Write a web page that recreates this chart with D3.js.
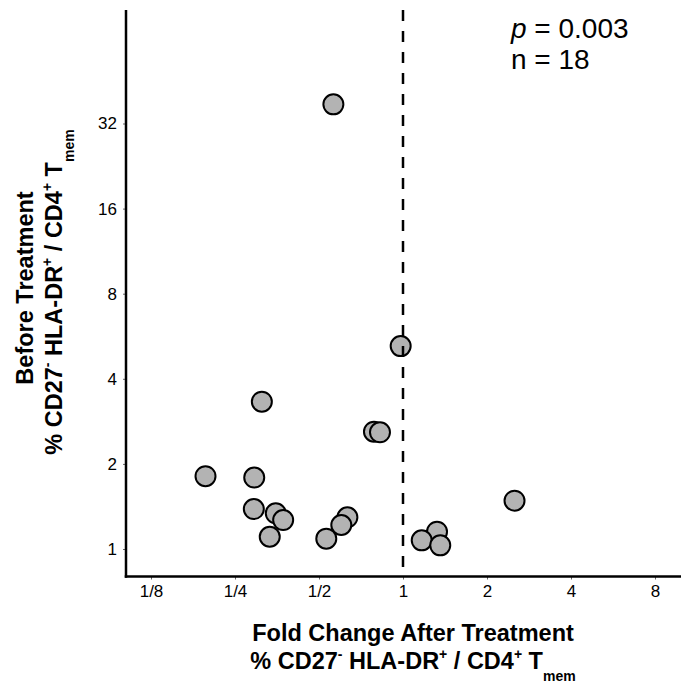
<!DOCTYPE html>
<html>
<head>
<meta charset="utf-8">
<script src="https://cdn.jsdelivr.net/npm/d3@7"></script>
<style>
body { margin: 0; background: #fff; }
text { font-family: "Liberation Sans", Arial, Helvetica, sans-serif; }
</style>
</head>
<body>
<div id="chart"></div>
<script>
// fold change after treatment (x) vs % before treatment (y), one per subject
var foldChange = [0.196, 0.293, 0.292, 0.312, 0.333, 0.350, 0.372, 0.531, 0.632, 0.601,
                  0.787, 0.827, 0.563, 0.981, 1.324, 1.167, 1.36, 2.51]
var beforeTreatment = [1.81, 1.79, 1.385, 3.32, 1.105, 1.337, 1.266, 1.088, 1.295, 1.216,
                       2.60, 2.587, 37.4, 5.22, 1.151, 1.073, 1.030, 1.482]

var xTicks = [1/8, 1/4, 1/2, 1, 2, 4, 8]
var xTickLabels = ["1/8", "1/4", "1/2", "1", "2", "4", "8"]
var yTicks = [1, 2, 4, 8, 16, 32]
var yTickLabels = ["1", "2", "4", "8", "16", "32"]
var refLine = 1
var pValue = "0.003"
var nSubjects = 18

var W = 681, H = 684
var margin = { left: 126, top: 10, right: 0, bottom: 107.5 }
var width = W - margin.left - margin.right,
    height = H - margin.top - margin.bottom

var svg = d3.select("#chart")
    .append("svg")
        .attr("width", W)
        .attr("height", H)
    .append("g")
        .attr("transform", "translate(" + margin.left + "," + margin.top + ")")

var x = d3.scaleLog().base(2)
    .domain([1/8, 8])
    .range([25, 529])

var y = d3.scaleLog().base(2)
    .domain([1, 32])
    .range([539, 113.5])

var x_axis = d3.axisBottom(x)
    .tickValues(xTicks)
    .tickFormat(function(d, i){ return xTickLabels[i] })
    .tickSize(3)
    .tickPadding(5)

var y_axis = d3.axisLeft(y)
    .tickValues(yTicks)
    .tickFormat(function(d, i){ return yTickLabels[i] })
    .tickSize(3)
    .tickPadding(6)

var xAxisCall = svg.append("g")
    .attr("transform", "translate(0," + height + ")")
    .call(x_axis)

var yAxisCall = svg.append("g")
    .call(y_axis)

svg.selectAll(".domain").remove()
svg.selectAll(".tick line").attr("stroke", "#666").attr("stroke-width", 1)
svg.selectAll(".tick text")
    .attr("fill", "#000")
    .attr("font-size", "17px")
    .attr("font-family", "'Liberation Sans', Arial, Helvetica, sans-serif")

// axis lines
svg.append("line")
    .attr("x1", 0).attr("x2", 0)
    .attr("y1", 0).attr("y2", height + 1.25)
    .attr("stroke", "#000").attr("stroke-width", 2.5)

svg.append("line")
    .attr("x1", -1.25).attr("x2", width)
    .attr("y1", height).attr("y2", height)
    .attr("stroke", "#000").attr("stroke-width", 2.5)

// points
svg.selectAll(".pt")
    .data(foldChange)
    .enter()
    .append("circle")
        .attr("class", "pt")
        .attr("cx", function(d){ return x(d) })
        .attr("cy", function(d, i){ return y(beforeTreatment[i]) })
        .attr("r", 10)
        .attr("fill", "#b3b3b3")
        .attr("stroke", "#000")
        .attr("stroke-width", 2)

// reference line at fold change = 1
svg.append("line")
    .attr("x1", x(refLine)).attr("x2", x(refLine))
    .attr("y1", 0).attr("y2", height)
    .attr("stroke", "#000")
    .attr("stroke-width", 2.5)
    .attr("stroke-dasharray", "11,10")

// stats annotation
var stats = svg.append("text")
    .attr("x", 385)
    .attr("y", 28)
    .attr("font-size", "28px")
stats.append("tspan").attr("font-style", "italic").text("p")
stats.append("tspan").text(" = " + pValue)

svg.append("text")
    .attr("x", 385)
    .attr("y", 59)
    .attr("font-size", "28px")
    .text("n = " + nSubjects)

// axis titles
function cellLabel(sel){
    sel.append("tspan").text("% CD27")
    sel.append("tspan").attr("font-size", "14px").attr("dy", -10).text("-")
    sel.append("tspan").attr("dy", 10).text(" HLA-DR")
    sel.append("tspan").attr("font-size", "14px").attr("dy", -10).text("+")
    sel.append("tspan").attr("dy", 10).text(" / CD4")
    sel.append("tspan").attr("font-size", "14px").attr("dy", -10).text("+")
    sel.append("tspan").attr("dy", 10).text(" T")
    sel.append("tspan").attr("font-size", "14px").attr("dy", 12).text("mem")
}

var xTitle = svg.append("g")
    .attr("transform", "translate(" + (413 - margin.left) + "," + (641 - margin.top) + ")")
    .attr("font-weight", "bold")
    .attr("font-size", "23.5px")
    .attr("text-anchor", "middle")

xTitle.append("text").text("Fold Change After Treatment")
xTitle.append("text").attr("y", 28).call(cellLabel)

var yTitle = svg.append("g")
    .attr("font-weight", "bold")
    .attr("font-size", "23.5px")
    .attr("text-anchor", "middle")

yTitle.append("text")
    .attr("transform", "translate(" + (33 - margin.left) + "," + (288 - margin.top) + ") rotate(-90)")
    .text("Before Treatment")
yTitle.append("text")
    .attr("transform", "translate(" + (62 - margin.left) + "," + (292 - margin.top) + ") rotate(-90)")
    .call(cellLabel)
</script>
</body>
</html>
